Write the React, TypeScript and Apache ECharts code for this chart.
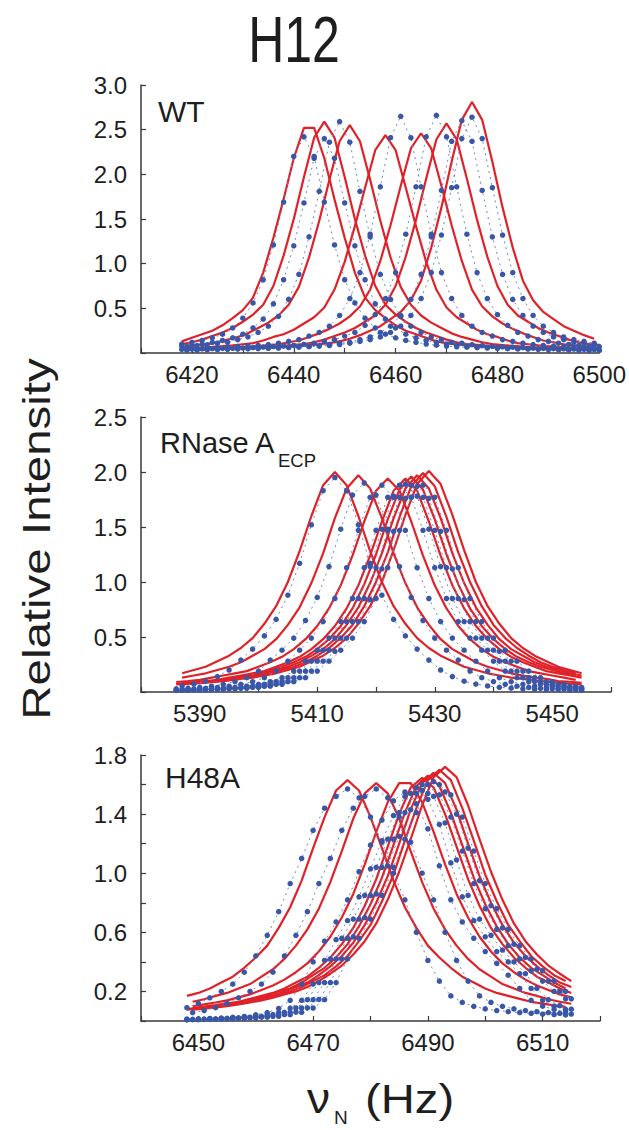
import React, { useEffect, useRef } from "react";
import * as echarts from "echarts";

// ---------- x grids (Hz) ----------
const wtEvenX = [6418,6420,6422,6424,6426,6428,6430,6432,6434,6436,6438,6440,6442,6444,6446,6448,6450,6452,6454,6456,6458,6460,6462,6464,6466,6468,6470,6472,6474,6476,6478,6480,6482,6484,6486,6488,6490,6492,6494,6496,6498,6500];
const wtOddX = [6419,6421,6423,6425,6427,6429,6431,6433,6435,6437,6439,6441,6443,6445,6447,6449,6451,6453,6455,6457,6459,6461,6463,6465,6467,6469,6471,6473,6475,6477,6479,6481,6483,6485,6487,6489,6491,6493,6495,6497,6499];
const rnEvenX = [5386,5388,5390,5392,5394,5396,5398,5400,5402,5404,5406,5408,5410,5412,5414,5416,5418,5420,5422,5424,5426,5428,5430,5432,5434,5436,5438,5440,5442,5444,5446,5448,5450,5452,5454];
const rnOddX = [5387,5389,5391,5393,5395,5397,5399,5401,5403,5405,5407,5409,5411,5413,5415,5417,5419,5421,5423,5425,5427,5429,5431,5433,5435,5437,5439,5441,5443,5445,5447,5449,5451,5453,5455];
const h48EvenX = [6448,6450,6452,6454,6456,6458,6460,6462,6464,6466,6468,6470,6472,6474,6476,6478,6480,6482,6484,6486,6488,6490,6492,6494,6496,6498,6500,6502,6504,6506,6508,6510,6512,6514];
const h48OddX = [6449,6451,6453,6455,6457,6459,6461,6463,6465,6467,6469,6471,6473,6475,6477,6479,6481,6483,6485,6487,6489,6491,6493,6495,6497,6499,6501,6503,6505,6507,6509,6511,6513,6515];

// ---------- WT : fits (red) ----------
const wtFit1 = [.13,.17,.21,.25,.31,.39,.48,.62,.90,1.29,1.72,2.18,2.52,2.52,2.18,1.72,1.29,.90,.62,.48,.39,.31,.25,.21,.17,.13,.11,.095,.085,.077,.067,.062,.057,.054,.051,.046,.044,.041,.04,.039,.036,.035];
const wtFit2 = [.10,.12,.15,.19,.23,.28,.35,.43,.54,.75,1.09,1.50,1.97,2.41,2.59,2.41,1.97,1.50,1.09,.75,.54,.43,.35,.28,.23,.19,.15,.12,.10,.091,.08,.073,.065,.06,.054,.052,.049,.047,.044,.041,.039,.036];
const wtFit3 = [.079,.089,.10,.12,.15,.18,.22,.28,.34,.42,.54,.74,1.07,1.48,1.94,2.37,2.55,2.37,1.94,1.48,1.07,.74,.54,.42,.34,.28,.22,.18,.15,.12,.10,.089,.079,.071,.064,.059,.054,.051,.048,.046,.043];
const wtFit4 = [.051,.056,.061,.068,.076,.085,.098,.11,.14,.18,.21,.26,.33,.40,.51,.71,1.02,1.42,1.85,2.27,2.44,2.27,1.85,1.42,1.02,.71,.51,.40,.33,.26,.21,.18,.14,.11,.098,.085,.076,.068,.061,.056,.051,.049];
const wtFit5 = [.044,.047,.049,.052,.057,.062,.069,.076,.086,.098,.12,.14,.18,.22,.27,.33,.41,.52,.71,1.03,1.43,1.87,2.29,2.46,2.29,1.87,1.43,1.03,.71,.52,.41,.33,.27,.22,.18,.14,.12,.098,.086,.076,.069];
const wtFit6 = [.039,.041,.044,.046,.049,.051,.054,.059,.064,.072,.08,.09,.10,.12,.15,.19,.23,.28,.35,.42,.54,.75,1.08,1.49,1.95,2.39,2.57,2.39,1.95,1.49,1.08,.75,.54,.42,.35,.28,.23,.19,.15,.12,.10,.09];
const wtFit7 = [.039,.039,.042,.045,.048,.051,.053,.056,.059,.065,.07,.079,.087,.098,.11,.13,.16,.20,.25,.30,.38,.46,.59,.81,1.18,1.63,2.14,2.61,2.81,2.61,2.14,1.63,1.18,.81,.59,.46,.38,.30,.25,.20,.16];
// ---------- WT : data (blue) ----------
const wtObs1 = [.10,.12,.14,.17,.21,.28,.39,.56,.82,1.21,1.69,2.20,2.42,2.20,1.69,1.21,.82,.56,.39,.28,.21,.17,.14,.12,.10,.087,.077,.07,.065,.06,.056,.051,.048,.046,.044,.041,.039,.036,.034,.031,.031,.029];
const wtObs2 = [.077,.086,.098,.12,.14,.17,.21,.28,.38,.55,.82,1.20,1.68,2.18,2.40,2.18,1.68,1.20,.82,.55,.38,.28,.21,.17,.14,.12,.098,.086,.077,.07,.065,.06,.055,.05,.048,.046,.043,.041,.038,.036,.034,.031];
const wtObs3 = [.075,.083,.093,.11,.12,.15,.18,.23,.30,.41,.60,.88,1.30,1.81,2.36,2.59,2.36,1.81,1.30,.88,.60,.41,.30,.23,.18,.15,.12,.11,.093,.083,.075,.07,.065,.06,.054,.052,.049,.047,.044,.041,.039];
const wtObs4 = [.05,.053,.056,.061,.066,.072,.077,.085,.095,.11,.13,.15,.19,.23,.30,.42,.61,.90,1.33,1.86,2.41,2.65,2.41,1.86,1.33,.90,.61,.42,.30,.23,.19,.15,.13,.11,.095,.085,.077,.072,.066,.061,.056];
const wtObs5 = [.04,.043,.045,.048,.051,.053,.056,.061,.067,.072,.077,.085,.096,.11,.13,.15,.19,.23,.31,.43,.61,.90,1.33,1.86,2.42,2.66,2.42,1.86,1.33,.90,.61,.43,.31,.23,.19,.15,.13,.11,.096,.085,.077,.072];
const wtObs6 = [.034,.036,.039,.042,.044,.047,.049,.052,.055,.06,.065,.07,.075,.083,.094,.11,.12,.15,.18,.23,.30,.42,.60,.88,1.30,1.82,2.37,2.60,2.37,1.82,1.30,.88,.60,.42,.30,.23,.18,.15,.12,.11,.094];
const wtObs7 = [.034,.034,.037,.04,.042,.045,.048,.05,.053,.055,.061,.066,.071,.077,.084,.095,.11,.13,.15,.18,.23,.30,.42,.61,.90,1.32,1.85,2.40,2.64,2.40,1.85,1.32,.90,.61,.42,.30,.23,.18,.15,.13,.11];

// ---------- RNase A_ECP : fits (red) ----------
const rnFit1 = [.17,.20,.23,.28,.33,.40,.49,.62,.78,1.0,1.28,1.60,1.88,2.0,1.88,1.60,1.28,1.0,.78,.62,.49,.40,.33,.28,.23,.20,.17,.15,.13,.12,.105,.094,.085,.077,.07];
const rnFit2 = [.13,.15,.17,.20,.23,.27,.33,.39,.48,.61,.77,.99,1.26,1.58,1.85,1.97,1.85,1.58,1.26,.99,.77,.61,.48,.39,.33,.27,.23,.20,.17,.15,.13,.12,.10,.093,.084];
const rnFit3 = [.091,.10,.11,.13,.15,.17,.19,.23,.27,.32,.39,.48,.60,.76,.97,1.24,1.55,1.83,1.94,1.83,1.55,1.24,.97,.76,.60,.48,.39,.32,.27,.23,.19,.17,.15,.13,.11];
const rnFit4 = [.082,.091,.10,.11,.13,.15,.17,.19,.23,.27,.32,.39,.48,.60,.76,.97,1.24,1.55,1.83,1.94,1.83,1.55,1.24,.97,.76,.60,.48,.39,.32,.27,.23,.19,.17,.15,.13];
const rnFit5 = [.075,.083,.092,.10,.115,.13,.15,.17,.20,.23,.27,.32,.39,.48,.60,.76,.98,1.25,1.57,1.84,1.96,1.84,1.57,1.25,.98,.76,.60,.48,.39,.32,.27,.23,.20,.17,.15];
const rnFit6 = [.076,.084,.093,.10,.12,.13,.15,.17,.20,.23,.27,.33,.39,.48,.61,.77,.99,1.26,1.58,1.85,1.97,1.85,1.58,1.26,.99,.77,.61,.48,.39,.33,.27,.23,.20,.17,.15];
const rnFit7 = [.07,.077,.084,.094,.10,.12,.13,.15,.17,.20,.23,.27,.33,.40,.49,.61,.78,1.0,1.27,1.59,1.87,1.99,1.87,1.59,1.27,1.0,.78,.61,.49,.40,.33,.27,.23,.20,.17];
const rnFit8 = [.07,.077,.085,.095,.105,.12,.13,.15,.17,.20,.23,.28,.33,.40,.49,.62,.78,1.0,1.29,1.61,1.89,2.01,1.89,1.61,1.29,1.0,.78,.62,.49,.40,.33,.28,.23,.20,.17];
// ---------- RNase A_ECP : data (blue) ----------
const rnObs1 = [.055,.072,.098,.14,.20,.29,.39,.51,.66,.88,1.17,1.52,1.83,1.95,1.83,1.52,1.17,.88,.66,.51,.39,.29,.20,.14,.098,.072,.055,.043,.035,.029,.025,.021,.02,.018,.016];
const rnObs2 = [.029,.034,.042,.053,.07,.095,.13,.19,.29,.38,.49,.65,.86,1.14,1.48,1.79,1.90,1.79,1.48,1.14,.86,.65,.49,.38,.29,.19,.13,.095,.07,.053,.042,.034,.029,.025,.021];
const rnObs3 = [.024,.028,.034,.041,.053,.07,.094,.13,.19,.28,.38,.49,.64,.85,1.13,1.47,1.77,1.88,1.77,1.47,1.13,.85,.64,.49,.38,.28,.19,.13,.094,.07,.053,.041,.034,.028,.024];
const rnObs4 = [.019,.021,.024,.028,.034,.041,.053,.07,.094,.13,.19,.28,.38,.49,.64,.85,1.13,1.47,1.77,1.88,1.77,1.47,1.13,.85,.64,.49,.38,.28,.19,.13,.094,.07,.053,.041,.034];
const rnObs5 = [.019,.021,.024,.028,.034,.042,.053,.07,.095,.13,.19,.28,.38,.49,.64,.85,1.14,1.48,1.78,1.89,1.78,1.48,1.14,.85,.64,.49,.38,.28,.19,.13,.095,.07,.053,.042,.034];
const rnObs6 = [.017,.019,.021,.024,.028,.034,.041,.053,.07,.094,.13,.19,.28,.38,.49,.64,.85,1.13,1.47,1.77,1.88,1.77,1.47,1.13,.85,.64,.49,.38,.28,.19,.13,.094,.07,.053,.041];
const rnObs7 = [.017,.019,.021,.024,.028,.034,.041,.052,.07,.094,.13,.19,.28,.37,.49,.64,.84,1.12,1.46,1.76,1.87,1.76,1.46,1.12,.84,.64,.49,.37,.28,.19,.13,.094,.07,.052,.041];
const rnObs8 = [.015,.017,.019,.021,.024,.028,.034,.041,.053,.07,.094,.13,.19,.28,.38,.49,.64,.85,1.13,1.47,1.77,1.88,1.77,1.47,1.13,.85,.64,.49,.38,.28,.19,.13,.094,.07,.053];

// ---------- H48A : fits (red) ----------
const hFit1 = [.17,.19,.22,.26,.30,.36,.43,.51,.63,.77,.95,1.17,1.38,1.56,1.63,1.56,1.38,1.17,.95,.77,.63,.51,.43,.36,.30,.26,.22,.19,.17,.15,.13,.118,.106,.096];
const hFit2 = [.13,.147,.17,.19,.22,.25,.30,.35,.42,.51,.62,.76,.94,1.15,1.37,1.54,1.61,1.54,1.37,1.15,.94,.76,.62,.51,.42,.35,.30,.25,.22,.19,.17,.147,.13,.117];
const hFit3 = [.10,.112,.125,.14,.16,.18,.21,.24,.28,.33,.39,.47,.57,.70,.86,1.06,1.28,1.48,1.61,1.61,1.48,1.28,1.06,.86,.70,.57,.47,.39,.33,.28,.24,.21,.18,.16];
const hFit4 = [.088,.097,.107,.12,.13,.15,.17,.19,.22,.26,.30,.36,.43,.52,.63,.78,.96,1.18,1.40,1.58,1.645,1.58,1.40,1.18,.96,.78,.63,.52,.43,.36,.30,.26,.22,.19];
const hFit5 = [.081,.089,.098,.108,.12,.13,.15,.17,.20,.22,.26,.31,.36,.43,.52,.64,.79,.97,1.19,1.41,1.59,1.66,1.59,1.41,1.19,.97,.79,.64,.52,.43,.36,.31,.26,.22];
const hFit6 = [.082,.09,.099,.11,.12,.14,.15,.17,.20,.23,.26,.31,.37,.44,.53,.65,.80,.98,1.20,1.43,1.61,1.68,1.61,1.43,1.20,.98,.80,.65,.53,.44,.37,.31,.26,.23];
const hFit7 = [.076,.083,.091,.10,.11,.12,.14,.155,.18,.20,.23,.27,.31,.37,.44,.54,.65,.81,.99,1.22,1.44,1.63,1.70,1.63,1.44,1.22,.99,.81,.65,.54,.44,.37,.31,.27];
const hFit8 = [.077,.084,.092,.10,.112,.125,.14,.157,.18,.20,.23,.27,.32,.375,.45,.54,.66,.82,1.01,1.23,1.46,1.65,1.72,1.65,1.46,1.23,1.01,.82,.66,.54,.45,.375,.32,.27];
// ---------- H48A : data (blue) ----------
const hObs1 = [.09,.12,.157,.20,.25,.33,.44,.58,.74,.93,1.10,1.29,1.44,1.52,1.57,1.51,1.38,1.21,1.0,.82,.60,.41,.27,.17,.126,.099,.082,.071,.063,.057,.052,.047,.044,.041];
const hObs2 = [.057,.071,.09,.12,.157,.20,.25,.33,.44,.58,.74,.93,1.10,1.29,1.44,1.52,1.57,1.51,1.38,1.21,1.0,.82,.60,.41,.27,.17,.126,.099,.082,.071,.063,.057,.052,.047];
const hObs3 = [.012,.014,.017,.02,.025,.031,.042,.057,.085,.14,.25,.40,.54,.67,.82,1.01,1.19,1.36,1.49,1.55,1.47,1.30,1.05,.82,.67,.56,.47,.39,.31,.22,.14,.10,.078,.065];
const hObs4 = [.011,.013,.014,.017,.021,.025,.032,.043,.058,.087,.14,.25,.41,.55,.68,.84,1.03,1.22,1.39,1.52,1.58,1.50,1.33,1.07,.84,.68,.57,.47,.40,.32,.22,.14,.10,.079];
const hObs5 = [.011,.013,.014,.018,.021,.026,.032,.043,.059,.088,.144,.26,.42,.56,.69,.85,1.04,1.23,1.41,1.54,1.60,1.52,1.34,1.09,.85,.69,.58,.48,.40,.32,.22,.144,.104,.08];
const hObs6 = [.01,.011,.013,.014,.018,.021,.026,.032,.043,.059,.088,.144,.26,.42,.56,.69,.85,1.04,1.23,1.41,1.54,1.60,1.53,1.38,1.15,.93,.76,.62,.51,.42,.34,.27,.20,.15];
const hObs7 = [.01,.011,.013,.015,.018,.021,.026,.032,.044,.06,.089,.146,.26,.42,.57,.70,.86,1.05,1.25,1.43,1.56,1.62,1.55,1.40,1.17,.95,.78,.63,.52,.43,.35,.27,.20,.15];
const hObs8 = [.008,.01,.011,.013,.014,.018,.021,.026,.032,.043,.059,.088,.144,.26,.42,.56,.69,.85,1.04,1.23,1.41,1.54,1.60,1.53,1.38,1.15,.93,.76,.62,.51,.42,.34,.27,.20];

// ---------- axis settings ----------
const xRanges = [[6410, 6500], [5380, 5460], [6440, 6520]];
const xLabelStart = [6420, 5390, 6450];
const yMax = [3.0, 2.5, 1.8];
const yStep = [0.5, 0.5, 0.2];
const panelNames = ["WT", "RNase A", "H48A"];

const RED = "#df2229";
const BLUE = "#3957a8";
const FONT = '"Liberation Sans", Arial, Helvetica, sans-serif';
const INK = "#1e1e1e";

const fitSets: [number[], number[], number][] = [
  [wtEvenX, wtFit1, 0], [wtEvenX, wtFit2, 0], [wtOddX, wtFit3, 0], [wtEvenX, wtFit4, 0],
  [wtOddX, wtFit5, 0], [wtEvenX, wtFit6, 0], [wtOddX, wtFit7, 0],
  [rnOddX, rnFit1, 1], [rnOddX, rnFit2, 1], [rnEvenX, rnFit3, 1], [rnOddX, rnFit4, 1],
  [rnEvenX, rnFit5, 1], [rnOddX, rnFit6, 1], [rnEvenX, rnFit7, 1], [rnOddX, rnFit8, 1],
  [h48EvenX, hFit1, 2], [h48OddX, hFit2, 2], [h48OddX, hFit3, 2], [h48OddX, hFit4, 2],
  [h48EvenX, hFit5, 2], [h48OddX, hFit6, 2], [h48EvenX, hFit7, 2], [h48OddX, hFit8, 2],
];
const obsSets: [number[], number[], number][] = [
  [wtEvenX, wtObs1, 0], [wtEvenX, wtObs2, 0], [wtOddX, wtObs3, 0], [wtOddX, wtObs4, 0],
  [wtEvenX, wtObs5, 0], [wtOddX, wtObs6, 0], [wtOddX, wtObs7, 0],
  [rnOddX, rnObs1, 1], [rnEvenX, rnObs2, 1], [rnOddX, rnObs3, 1], [rnEvenX, rnObs4, 1],
  [rnOddX, rnObs5, 1], [rnEvenX, rnObs6, 1], [rnOddX, rnObs7, 1], [rnEvenX, rnObs8, 1],
  [h48EvenX, hObs1, 2], [h48OddX, hObs2, 2], [h48EvenX, hObs3, 2], [h48EvenX, hObs4, 2],
  [h48OddX, hObs5, 2], [h48EvenX, hObs6, 2], [h48OddX, hObs7, 2], [h48EvenX, hObs8, 2],
];

const pair = (xs: number[], ys: number[]) => xs.map((x, i) => [x, ys[i]]);

function buildOption() {
  const grids = [
    { left: 141, top: 85, width: 459, height: 268 },
    { left: 141, top: 417, width: 470, height: 275 },
    { left: 141, top: 755, width: 459, height: 266 },
  ];
  const axisLine = { show: true, lineStyle: { color: "#3a3a3a", width: 1.5 } };
  const axisTick = { show: true, inside: true, length: 5, lineStyle: { color: "#3a3a3a", width: 1.2 } };
  const xAxis = xRanges.map((r, i) => ({
    type: "value", gridIndex: i, min: r[0], max: r[1], interval: 10,
    axisLine, axisTick, splitLine: { show: false },
    axisLabel: {
      margin: 9, fontSize: 24, fontFamily: FONT, color: INK,
      formatter: (v: number) => ((v - xLabelStart[i]) % 20 === 0 ? String(v) : ""),
    },
  }));
  const yAxis = yMax.map((m, i) => ({
    type: "value", gridIndex: i, min: 0, max: m, interval: yStep[i],
    axisLine, axisTick, splitLine: { show: false },
    axisLabel: {
      margin: 14, fontSize: 24, fontFamily: FONT, color: INK,
      formatter: (v: number) => {
        if (v === 0) return "";
        if (i === 2) return Math.round(v * 10) % 4 === 2 ? v.toFixed(1) : "";
        return v.toFixed(1);
      },
    },
  }));
  const series: any[] = [];
  fitSets.forEach(([xs, ys, g]) =>
    series.push({
      type: "line", xAxisIndex: g, yAxisIndex: g, data: pair(xs, ys),
      symbol: "none", showSymbol: false, silent: true, z: 2,
      lineStyle: { color: RED, width: 2.2 },
    })
  );
  obsSets.forEach(([xs, ys, g]) =>
    series.push({
      type: "line", xAxisIndex: g, yAxisIndex: g, data: pair(xs, ys),
      symbol: "circle", symbolSize: 5.5, showSymbol: true, silent: true, z: 3,
      itemStyle: { color: BLUE },
      lineStyle: { color: "#6f88c2", width: 1, type: [2, 4] },
    })
  );
  const txt = (text: string, x: number, y: number, size: number, extra: any = {}, align = "left") => ({
    type: "text", x, y, ...extra,
    style: {
      text, fontSize: size, fontFamily: FONT, fill: INK,
      textAlign: align, textVerticalAlign: "middle", align, verticalAlign: "middle",
    },
  });
  const graphic = [
    txt("H12", 294, 39.5, 50, { scaleY: 1.3 }, "center"),
    txt("Relative Intensity", 36.5, 539, 38, { rotation: Math.PI / 2, scaleX: 1.25 }, "center"),
    txt(panelNames[0], 158, 111.6, 30),
    txt(panelNames[1], 160, 443, 29),
    txt("ECP", 278, 460, 18.5),
    txt(panelNames[2], 165, 777.6, 30),
    txt("\u03bd", 307, 1098.4, 42, { scaleX: 1.1 }),
    txt("N", 334, 1117, 19),
    txt("(Hz)", 365, 1099, 40, { scaleX: 1.18 }),
  ];
  return { animation: false, backgroundColor: "#ffffff", grid: grids, xAxis, yAxis, series, graphic };
}

export default function App() {
  const ref = useRef<HTMLDivElement>(null);
  useEffect(() => {
    if (!ref.current) return;
    const chart = echarts.init(ref.current, null, { renderer: "svg" });
    chart.setOption(buildOption() as any);
    return () => chart.dispose();
  }, []);
  return (
    <div
      ref={ref}
      style={{ position: "absolute", left: 0, top: 0, width: 629, height: 1130, background: "#fff" }}
    />
  );
}
